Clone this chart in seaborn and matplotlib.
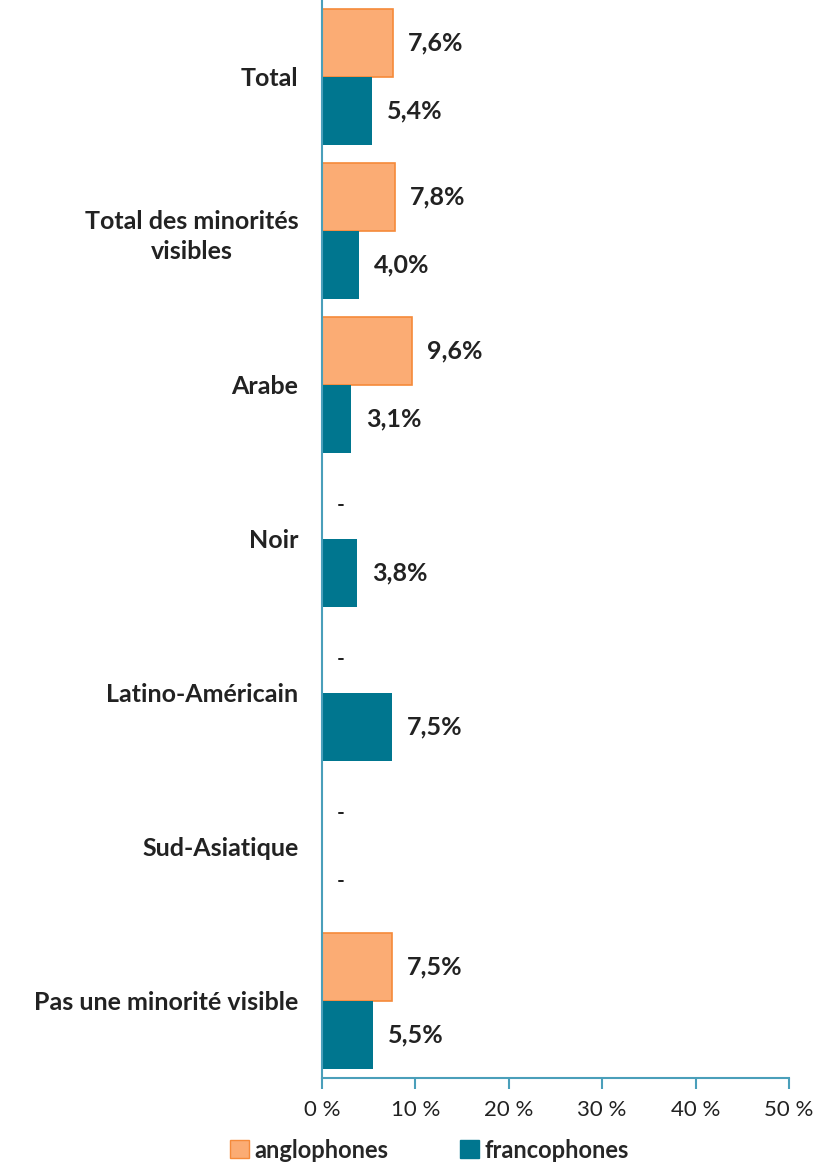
import numpy as np
import pandas as pd
import matplotlib.pyplot as plt
import seaborn as sns
from matplotlib.patches import Patch

# Data
categories = ['Total', 'Total des minorités\nvisibles', 'Arabe', 'Noir',
              'Latino-Américain', 'Sud-Asiatique', 'Pas une minorité visible']
anglophones = [7.6, 7.8, 9.6, np.nan, np.nan, np.nan, 7.5]
francophones = [5.4, 4.0, 3.1, 3.8, 7.5, np.nan, 5.5]
groups = ['anglophones', 'francophones']
xticks = [0, 10, 20, 30, 40, 50]

df = pd.DataFrame({
    'cat': categories * 2,
    'groupe': [groups[0]] * len(categories) + [groups[1]] * len(categories),
    'val': anglophones + francophones,
})

sns.set_style('white')
plt.rcParams['font.family'] = ['Lato', 'DejaVu Sans']

orange = '#FBAC74'
teal = '#00768F'
axis_col = '#4A9FBA'
bar_w = 0.88

fig = plt.figure(figsize=(8.18, 11.64), dpi=100)
ax = fig.add_axes([0.3936, 0.0739, 0.5709, 0.9261])

sns.barplot(data=df, y='cat', x='val', hue='groupe', order=categories,
            hue_order=groups, palette=[orange, teal], width=bar_w, saturation=1,
            orient='h', ax=ax, legend=False)

# edges
for bar in ax.containers[0]:
    bar.set_edgecolor('#F58A3A')
    bar.set_linewidth(1.2)
for bar in ax.containers[1]:
    bar.set_linewidth(0)

# value labels (dodge offset: first hue above, second below)
for k, vals in enumerate([anglophones, francophones]):
    off = (k - 0.5) * bar_w / 2
    for i, v in enumerate(vals):
        yc = i + off
        if np.isnan(v):
            ax.text(2.0, yc, '-', ha='center', va='center', fontsize=15,
                    fontweight='bold', color='#222222')
        else:
            ax.text(v + 1.6, yc, f'{v:.1f}%'.replace('.', ','), ha='left',
                    va='center', fontsize=18, fontweight='bold', color='#222222')

ax.set_xlim(0, 50)
ax.set_ylim(len(categories) - 0.5, -0.5)
ax.set_xticks(xticks)
ax.set_xticklabels([f'{t} %' for t in xticks], fontsize=16, color='#222222')
ax.set_yticks(range(len(categories)))
ax.set_yticklabels(categories, fontsize=18, fontweight='bold', color='#222222',
                   linespacing=1.35, multialignment='center')
ax.set_xlabel('')
ax.set_ylabel('')
ax.tick_params(axis='x', bottom=True, length=8, width=1.5, color=axis_col,
               direction='out', pad=8)
ax.tick_params(axis='y', left=False, length=0, pad=17)

for s in ['top', 'right']:
    ax.spines[s].set_visible(False)
for s in ['left', 'bottom']:
    ax.spines[s].set_color(axis_col)
    ax.spines[s].set_linewidth(1.5)

# legend
handles = [Patch(facecolor=orange, edgecolor='#F58A3A'), Patch(facecolor=teal, edgecolor=teal)]
fig.legend(handles, groups, loc='center', bbox_to_anchor=(0.525, 0.012), ncol=2,
           frameon=False, handlelength=0.8, handleheight=0.8, handletextpad=0.25,
           columnspacing=3.0, prop={'size': 17, 'weight': 'bold'})

plt.savefig('out.png', dpi=100)
